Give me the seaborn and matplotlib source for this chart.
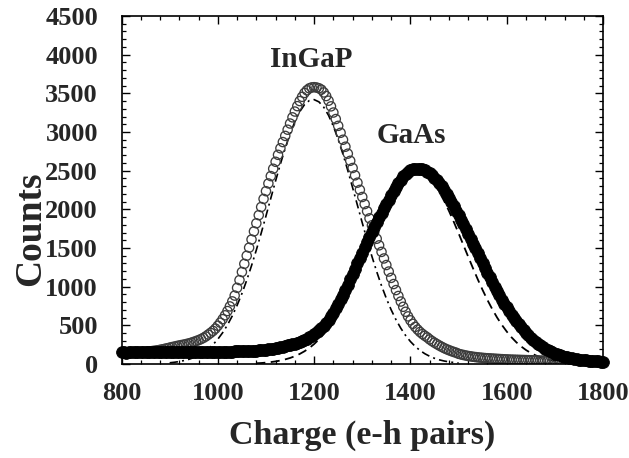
import numpy as np
import pandas as pd
import matplotlib
matplotlib.use("Agg")
import matplotlib.pyplot as plt
from matplotlib.ticker import MultipleLocator
import seaborn as sns

# ---------------- data ----------------
charge = list(range(800, 1805, 5))  # e-h pairs, channel positions

ingap_counts = [
    150, 151, 150, 152, 151, 153, 152, 154, 155, 157, 159, 162, 165, 169, 173, 178, 184, 190, 197, 204,
    212, 219, 226, 233, 240, 246, 252, 259, 267, 276, 286, 297, 309, 322, 338, 357, 380, 403, 428, 458,
    495, 535, 580, 630, 685, 745, 810, 885, 985, 1085, 1190, 1295, 1400, 1505, 1610, 1715, 1820, 1925, 2030, 2135,
    2235, 2335, 2430, 2525, 2615, 2705, 2790, 2870, 2950, 3030, 3110, 3190, 3265, 3335, 3400, 3455, 3505, 3540, 3565, 3577,
    3580, 3576, 3566, 3548, 3512, 3465, 3405, 3332, 3252, 3168, 3080, 2990, 2900, 2810, 2720, 2628, 2535, 2440, 2345, 2252,
    2160, 2068, 1976, 1884, 1794, 1706, 1620, 1535, 1450, 1365, 1280, 1196, 1114, 1034, 956, 880, 808, 740, 676, 616,
    565, 520, 480, 445, 414, 388, 365, 344, 318, 296, 276, 257, 239, 222, 206, 192, 179, 167, 156, 146,
    132, 124, 117, 110, 104, 99, 94, 90, 86, 83, 80, 77, 75, 73, 71, 69, 67, 65, 63, 61,
    60, 58, 57, 56, 55, 54, 53, 52, 51, 50, 49, 48, 47, 46, 45, 44, 43, 42, 41, 40,
    40, 39, 38, 37, 36, 35, 35, 34, 33, 32, 32, 31, 30, 30, 29, 28, 28, 27, 27, 26, 26,
]

gaas_counts = [
    152, 150, 148, 150, 151, 149, 150, 152, 150, 149, 151, 150, 152, 150, 151, 149, 150, 152, 151, 150,
    150, 151, 152, 150, 151, 152, 151, 150, 152, 153, 152, 153, 154, 153, 154, 155, 155, 156, 156, 157,
    157, 158, 158, 159, 160, 160, 161, 162, 163, 164, 165, 166, 167, 169, 170, 172, 174, 176, 178, 181,
    184, 188, 192, 197, 203, 210, 217, 224, 232, 240, 248, 256, 265, 275, 286, 298, 312, 328, 345, 365,
    387, 410, 436, 464, 495, 530, 570, 615, 665, 718, 775, 835, 898, 962, 1028, 1095, 1163, 1232, 1302, 1372,
    1442, 1512, 1580, 1647, 1712, 1775, 1837, 1897, 1955, 2012, 2068, 2124, 2180, 2236, 2292, 2342, 2386, 2425, 2458, 2485,
    2505, 2517, 2524, 2527, 2525, 2518, 2505, 2488, 2466, 2440, 2410, 2376, 2338, 2296, 2250, 2202, 2150, 2096, 2040, 1983,
    1925, 1866, 1806, 1745, 1683, 1620, 1557, 1494, 1431, 1368, 1305, 1242, 1180, 1119, 1059, 1000, 943, 888, 834, 782,
    732, 684, 638, 594, 552, 512, 474, 438, 404, 372, 342, 314, 288, 264, 241, 220, 200, 182, 165, 150,
    136, 124, 113, 103, 94, 86, 79, 73, 67, 62, 57, 53, 49, 46, 43, 40, 38, 36, 34, 32, 30,
]

# fitted curves (dash-dot for InGaP, dashed for GaAs), read at 10 e-h pair steps
ingap_fit_charge = list(range(900, 1510, 10))
ingap_fit_counts = [
    16, 23, 32, 45, 61, 83, 112, 148, 194, 251,
    321, 405, 505, 622, 758, 911, 1083, 1272, 1475, 1691,
    1915, 2143, 2369, 2587, 2791, 2976, 3134, 3262, 3354, 3407,
    3419, 3390, 3321, 3215, 3074, 2905, 2712, 2501, 2279, 2052,
    1825, 1604, 1392, 1194, 1012, 848, 701, 573, 463, 369,
    291, 227, 175, 133, 100, 74, 54, 39, 28, 20, 14,
]

gaas_fit_charge = list(range(1080, 1740, 10))
gaas_fit_counts = [
    10, 13, 18, 25, 34, 45, 60, 78, 101, 130,
    165, 207, 258, 318, 389, 469, 561, 664, 778, 903,
    1037, 1179, 1327, 1478, 1630, 1780, 1924, 2059, 2181, 2287,
    2374, 2440, 2482, 2500, 2492, 2459, 2403, 2324, 2225, 2109,
    1980, 1839, 1691, 1539, 1387, 1238, 1093, 956, 827, 709,
    601, 505, 420, 345, 281, 227, 181, 143, 112, 87,
    66, 50, 38, 28, 21, 15,
]

labels = {"ingap": "InGaP", "gaas": "GaAs"}
label_pos = {"ingap": (1193, 3842), "gaas": (1403, 2859)}

df_ingap = pd.DataFrame({"charge": charge, "counts": ingap_counts})
df_gaas = pd.DataFrame({"charge": charge, "counts": gaas_counts})
df_ingap_fit = pd.DataFrame({"charge": ingap_fit_charge, "counts": ingap_fit_counts})
df_gaas_fit = pd.DataFrame({"charge": gaas_fit_charge, "counts": gaas_fit_counts})

# ---------------- style ----------------
sns.set_style("ticks")
plt.rcParams["font.family"] = ["Liberation Serif", "DejaVu Serif"]
plt.rcParams["font.weight"] = "bold"
plt.rcParams["axes.labelweight"] = "bold"

fig = plt.figure(figsize=(6.29, 4.58), dpi=100)
ax = fig.add_axes([0.1932, 0.2052, 0.7655, 0.7598])

# fits
sns.lineplot(data=df_ingap_fit, x="charge", y="counts", ax=ax, color="black",
             lw=1.2, linestyle=(0, (5, 2.5, 1.2, 2.5)), zorder=1)
sns.lineplot(data=df_gaas_fit, x="charge", y="counts", ax=ax, color="black",
             lw=1.3, linestyle=(0, (5, 3)), zorder=1)

# InGaP open circles
sns.scatterplot(data=df_ingap, x="charge", y="counts", ax=ax, marker="o", s=44,
                color="#3c3c3c", edgecolor="#3c3c3c", linewidth=0.95, zorder=2)
ax.collections[-1].set_facecolor("none")

# GaAs filled black circles
sns.scatterplot(data=df_gaas, x="charge", y="counts", ax=ax, marker="o", s=72,
                color="black", edgecolor="black", linewidth=0.6, zorder=3, clip_on=False)

for key in ("ingap", "gaas"):
    x, y = label_pos[key]
    ax.text(x, y, labels[key], ha="center", va="baseline", fontsize=21, fontweight="bold")

ax.set_xlim(800, 1800)
ax.set_ylim(0, 4500)
ax.xaxis.set_major_locator(MultipleLocator(200))
ax.xaxis.set_minor_locator(MultipleLocator(40))
ax.yaxis.set_major_locator(MultipleLocator(500))
ax.yaxis.set_minor_locator(MultipleLocator(100))

ax.tick_params(axis="both", which="both", direction="in", top=True, right=True, color="black")
ax.tick_params(axis="both", which="major", length=5.5, width=1.0, labelsize=19)
ax.tick_params(axis="both", which="minor", length=3, width=0.9)
ax.tick_params(axis="x", which="major", pad=13)
ax.tick_params(axis="y", which="major", pad=17)
for lab in ax.get_xticklabels() + ax.get_yticklabels():
    lab.set_fontweight("bold")

for sp in ax.spines.values():
    sp.set_linewidth(1.2)
    sp.set_color("black")

ax.set_xlabel("Charge (e-h pairs)", fontsize=24.5, fontweight="bold")
ax.set_ylabel("Counts", fontsize=27, fontweight="bold")
ax.xaxis.label.set_va("baseline")
ax.xaxis.set_label_coords(0.5, -0.23)
ax.yaxis.label.set_va("baseline")
ax.yaxis.set_label_coords(-0.169, 0.39)

fig.savefig("out.png", dpi=100)
